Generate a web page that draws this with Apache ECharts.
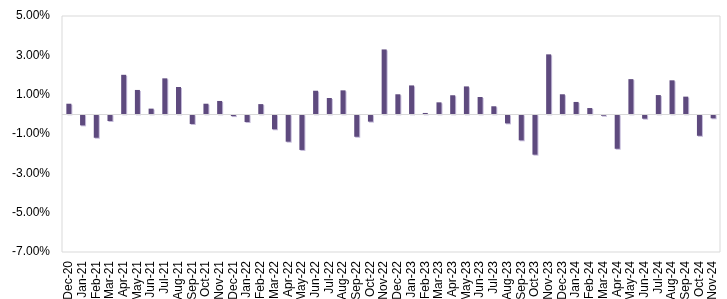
<!DOCTYPE html>
<html>
<head>
<meta charset="utf-8">
<script src="https://cdn.jsdelivr.net/npm/echarts@6/dist/echarts.min.js"></script>
<style>
  html, body { margin: 0; padding: 0; background: #fff; }
  #chart { width: 727px; height: 299px; }
</style>
</head>
<body>
<div id="chart"></div>
<script>
// monthly returns, Dec-20 .. Nov-24 (percent)
const months = [
  "Dec-20",
  "Jan-21", "Feb-21", "Mar-21", "Apr-21", "May-21", "Jun-21", "Jul-21", "Aug-21", "Sep-21", "Oct-21", "Nov-21", "Dec-21",
  "Jan-22", "Feb-22", "Mar-22", "Apr-22", "May-22", "Jun-22", "Jul-22", "Aug-22", "Sep-22", "Oct-22", "Nov-22", "Dec-22",
  "Jan-23", "Feb-23", "Mar-23", "Apr-23", "May-23", "Jun-23", "Jul-23", "Aug-23", "Sep-23", "Oct-23", "Nov-23", "Dec-23",
  "Jan-24", "Feb-24", "Mar-24", "Apr-24", "May-24", "Jun-24", "Jul-24", "Aug-24", "Sep-24", "Oct-24", "Nov-24"
];

const returns = [
  0.54,
  -0.56, -1.19, -0.34, 2.01, 1.24, 0.29, 1.83, 1.39, -0.49, 0.54, 0.68, -0.09,
  -0.39, 0.52, -0.76, -1.39, -1.81, 1.20, 0.83, 1.22, -1.14, -0.37, 3.30, 1.02,
  1.47, 0.07, 0.61, 0.97, 1.42, 0.88, 0.41, -0.46, -1.32, -2.05, 3.05, 1.02,
  0.63, 0.32, -0.07, -1.75, 1.79, -0.22, 0.98, 1.73, 0.90, -1.09, -0.20
];

const yMin = -7;
const yMax = 5;
const yStep = 2;

const chart = echarts.init(document.getElementById("chart"));

const option = {
  animation: false,
  grid: {
    left: 62,
    right: 7,
    top: 16,
    bottom: 47,
    outerBoundsMode: "none",
    show: true,
    borderColor: "#d9d9d9",
    borderWidth: 1
  },
  xAxis: {
    type: "category",
    data: months,
    axisLine: { onZero: false, show: false },
    axisTick: { show: false },
    axisLabel: {
      interval: 0,
      rotate: 90,
      margin: 9,
      fontFamily: "Liberation Sans, Arial, sans-serif",
      fontSize: 12,
      color: "#000"
    }
  },
  yAxis: {
    type: "value",
    min: yMin,
    max: yMax,
    interval: yStep,
    splitLine: { show: false },
    axisLine: { show: false },
    axisTick: { show: false },
    axisLabel: {
      margin: 12,
      fontFamily: "Liberation Sans, Arial, sans-serif",
      fontSize: 12,
      color: "#000",
      formatter: (v) => v.toFixed(2) + "%"
    }
  },
  series: [
    {
      type: "bar",
      data: returns,
      barWidth: 5,
      itemStyle: {
        color: "#5e4a7e",
        shadowColor: "rgba(170,155,200,0.7)",
        shadowOffsetX: 1,
        shadowOffsetY: 1,
        shadowBlur: 0
      },
      markLine: {
        silent: true,
        symbol: "none",
        label: { show: false },
        lineStyle: { color: "#d9d9d9", type: "solid", width: 1 },
        data: [{ yAxis: 0 }]
      }
    }
  ]
};

chart.setOption(option);
</script>
</body>
</html>
